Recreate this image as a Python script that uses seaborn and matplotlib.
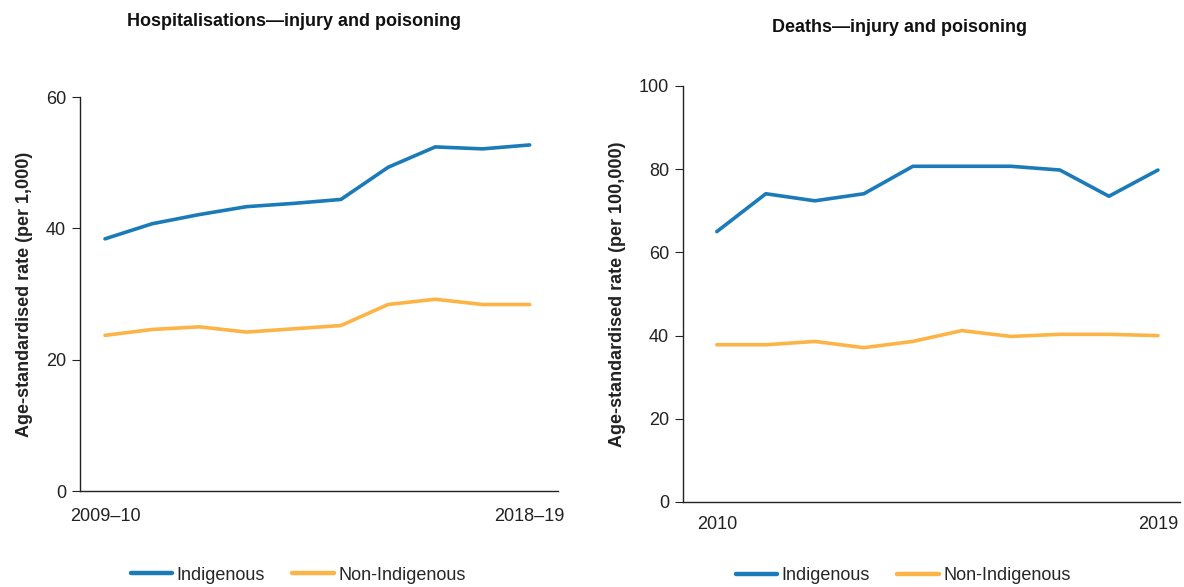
import pandas as pd
import matplotlib
matplotlib.use("Agg")
import matplotlib.pyplot as plt
import seaborn as sns

# values
hosp_years = ["2009–10", "2010–11", "2011–12", "2012–13", "2013–14",
              "2014–15", "2015–16", "2016–17", "2017–18", "2018–19"]
hosp_indigenous = [38.4, 40.7, 42.1, 43.3, 43.8, 44.4, 49.3, 52.4, 52.1, 52.7]
hosp_non_indigenous = [23.7, 24.6, 25.0, 24.2, 24.7, 25.2, 28.4, 29.2, 28.4, 28.4]

death_years = ["2010", "2011", "2012", "2013", "2014",
               "2015", "2016", "2017", "2018", "2019"]
death_indigenous = [65.0, 74.1, 72.4, 74.1, 80.7, 80.7, 80.7, 79.8, 73.5, 79.8]
death_non_indigenous = [37.8, 37.8, 38.6, 37.1, 38.6, 41.2, 39.8, 40.3, 40.3, 40.0]

series_names = ["Indigenous", "Non-Indigenous"]
palette = {"Indigenous": "#1b7bb8", "Non-Indigenous": "#fdb446"}


def make_frame(years, ind, non):
    df = pd.DataFrame({"pos": list(range(len(years))) * 2,
                       "year": years * 2,
                       "rate": ind + non,
                       "group": [series_names[0]] * len(ind) + [series_names[1]] * len(non)})
    return df


sns.set_theme(style="white")
plt.rcParams['font.family'] = ['Liberation Sans', 'DejaVu Sans']

W, H = 1184, 587
fig = plt.figure(figsize=(W / 100, H / 100), dpi=100)


def px_axes(x0, y0, x1, y1):
    # pixel box (top-left origin) -> figure fraction
    return fig.add_axes([x0 / W, 1 - y1 / H, (x1 - x0) / W, (y1 - y0) / H])


panels = [
    dict(box=(80, 97, 558, 491), years=hosp_years, ind=hosp_indigenous, non=hosp_non_indigenous,
         ylim=(0, 60), yticks=[0, 20, 40, 60], xlim=(-0.53, 9.6), xpad=12,
         ylabel="Age-standardised rate (per 1,000)",
         title="Hospitalisations—injury and poisoning", title_y=22, title_x=294, leg_x=298, leg_y=575),
    dict(box=(683, 86, 1180, 502), years=death_years, ind=death_indigenous, non=death_non_indigenous,
         ylim=(0, 100), yticks=[0, 20, 40, 60, 80, 100], xlim=(-0.69, 9.45), xpad=10,
         ylabel="Age-standardised rate (per 100,000)",
         title="Deaths—injury and poisoning", title_y=27, title_x=899, leg_x=903, leg_y=576),
]

for p in panels:
    ax = px_axes(*p["box"])
    df = make_frame(p["years"], p["ind"], p["non"])
    sns.lineplot(data=df, x="pos", y="rate", hue="group", palette=palette,
                 linewidth=2.6, ax=ax, legend=False)
    ax.set_xlim(*p["xlim"])
    ax.set_ylim(*p["ylim"])
    ax.set_yticks(p["yticks"])
    ax.set_yticklabels([str(v) for v in p["yticks"]], fontsize=13, color="#222222")
    n = len(p["years"])
    ax.set_xticks([0, n - 1])
    ax.set_xticklabels([p["years"][0], p["years"][-1]], fontsize=13, color="#222222")
    ax.tick_params(axis="x", length=0, pad=p["xpad"])
    ax.tick_params(axis="y", length=6, width=0.8, color="#222222", direction="out", left=True, pad=4)
    for side in ["top", "right"]:
        ax.spines[side].set_visible(False)
    for side in ["left", "bottom"]:
        ax.spines[side].set_color("#222222")
        ax.spines[side].set_linewidth(1.0)
    ax.set_xlabel("")
    ax.set_ylabel(p["ylabel"], fontsize=13, fontweight="bold", color="#222222", labelpad=9)

    fig.text(p["title_x"] / W, 1 - p["title_y"] / H, p["title"], ha="center", va="center",
             fontsize=13, fontweight="bold", color="#111111")

    handles = [plt.Line2D([], [], color=palette[s], linewidth=3.2) for s in series_names]
    fig.legend(handles, series_names, loc="center", ncol=2, frameon=False,
               bbox_to_anchor=(p["leg_x"] / W, 1 - p["leg_y"] / H),
               fontsize=13, handlelength=2.3, handletextpad=0.25, columnspacing=1.5)

fig.savefig("out.png", dpi=100)
